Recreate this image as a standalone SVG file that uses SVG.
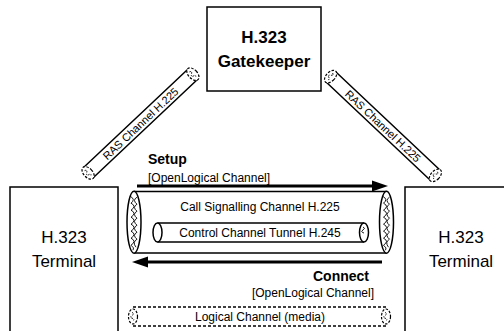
<svg xmlns="http://www.w3.org/2000/svg" width="504" height="331" viewBox="0 0 504 331">
<style>
  .box{fill:#fff;stroke:#000;stroke-width:1.5}
  .t{font-family:"Liberation Sans",Arial,Helvetica,sans-serif;fill:#000}
  .line{stroke:#000;stroke-width:1.5;fill:none}
  .dash{stroke:#000;stroke-width:1.3;fill:none;stroke-dasharray:3 2}
  .thin{stroke:#000;stroke-width:0.9;fill:none}
  .arrow{stroke:#000;stroke-width:3;fill:none}
</style>
<defs>
  <g id="bigEnd">
    <ellipse cx="0" cy="0" rx="7" ry="31" fill="#fff" stroke="#000" stroke-width="1.5"/>
    <path class="thin" d="M-4,-26 Q2,-23 -3,-19 Q3,-16 -3,-12 Q3,-9 -3,-5 Q3,-2 -3,2 Q3,5 -3,9 Q3,12 -3,16 Q3,19 -3,23 Q1,26 -1,28"/>
    <path class="thin" d="M3,-25 Q-2,-22 3,-18 Q-2,-15 3,-11 Q-2,-8 3,-4 Q-2,-1 3,3 Q-2,6 3,10 Q-2,13 3,17 Q-2,20 2,25"/>
  </g>
  <g id="dashCap">
    <ellipse cx="0" cy="0" rx="4.5" ry="7.5" fill="#fff" stroke="#000" stroke-width="1.2" stroke-dasharray="2.5 1.5"/>
    <path d="M-1,-4 q3,1 0,3 q-3,2 1,3 q2,1 0,2" fill="none" stroke="#000" stroke-width="0.9" stroke-dasharray="1.5 1"/>
  </g>
</defs>

<g id="gatekeeper">
  <rect class="box" x="207" y="7" width="114" height="84"/>
  <text class="t" x="264" y="43" font-size="17" font-weight="bold" text-anchor="middle">H.323</text>
  <text class="t" x="264" y="67" font-size="17" font-weight="bold" text-anchor="middle">Gatekeeper</text>
</g>

<g id="terminal-left">
  <rect class="box" x="10" y="187" width="108" height="150"/>
  <text class="t" x="64" y="243" font-size="17" text-anchor="middle">H.323</text>
  <text class="t" x="64" y="267" font-size="17" text-anchor="middle">Terminal</text>
</g>

<g id="terminal-right">
  <rect class="box" x="405" y="187" width="108" height="150"/>
  <text class="t" x="461" y="243" font-size="17" text-anchor="middle">H.323</text>
  <text class="t" x="461" y="267" font-size="17" text-anchor="middle">Terminal</text>
</g>

<g id="connectors">
  <!-- RAS channel left -->
  <g id="ras-left" transform="translate(140.5,123.5) rotate(-43.3)">
    <path class="line" d="M-72,-7 H72 M-72,7 H72"/>
    <use href="#dashCap" x="-72" y="0"/>
    <use href="#dashCap" x="72" y="0"/>
    <text class="t" x="0" y="4" font-size="11" text-anchor="middle">RAS Channel H.225</text>
  </g>
  <!-- RAS channel right -->
  <g id="ras-right" transform="translate(383,126) rotate(43.3)">
    <path class="line" d="M-72,-7 H72 M-72,7 H72"/>
    <use href="#dashCap" x="-72" y="0"/>
    <use href="#dashCap" x="72" y="0"/>
    <text class="t" x="0" y="4" font-size="11" text-anchor="middle">RAS Channel H.225</text>
  </g>

  <!-- Setup arrow -->
  <g id="setup">
    <text class="t" x="148" y="164" font-size="14" font-weight="bold">Setup</text>
    <text class="t" x="148" y="182" font-size="12">[OpenLogical Channel]</text>
    <line class="arrow" x1="137" y1="186" x2="374" y2="186"/>
    <polygon points="372,180.5 388,186 372,191.5" fill="#000"/>
  </g>

  <!-- Call signalling tube -->
  <g id="call-signalling">
    <path class="line" d="M134,191.5 H386.5 M134,253 H386.5"/>
    <use href="#bigEnd" x="134" y="222.2"/>
    <use href="#bigEnd" x="386.5" y="222.2"/>
    <text class="t" x="260" y="211" font-size="12" text-anchor="middle">Call Signalling Channel H.225</text>
  </g>

  <!-- Control channel tube -->
  <g id="control-channel">
    <path class="line" d="M157.5,223 H364 M157.5,242 H364"/>
    <ellipse cx="157.5" cy="232.5" rx="4.5" ry="9.5" fill="#fff" stroke="#000" stroke-width="1.5"/>
    <ellipse cx="364" cy="232.5" rx="4.5" ry="9.5" fill="#fff" stroke="#000" stroke-width="1.5"/>
    <path class="thin" d="M363,227 q3,1 0,3 q-3,2 1,3"/>
    <text class="t" x="260" y="237" font-size="12" text-anchor="middle">Control Channel Tunnel H.245</text>
  </g>

  <!-- Connect arrow -->
  <g id="connect">
    <line class="arrow" x1="146" y1="262" x2="382" y2="262"/>
    <polygon points="148,256.5 132,262 148,267.5" fill="#000"/>
    <text class="t" x="369" y="281" font-size="14" font-weight="bold" text-anchor="end">Connect</text>
    <text class="t" x="374" y="297" font-size="12" text-anchor="end">[OpenLogical Channel]</text>
  </g>

  <!-- Logical channel -->
  <g id="logical-channel">
    <path class="dash" d="M133,307 H386 M133,326 H386"/>
    <use href="#dashCap" x="133" y="316.5" transform="translate(0,0)"/>
    <use href="#dashCap" x="386" y="316.5"/>
    <text class="t" x="260" y="321" font-size="12" text-anchor="middle">Logical Channel (media)</text>
  </g>
</g>
</svg>
